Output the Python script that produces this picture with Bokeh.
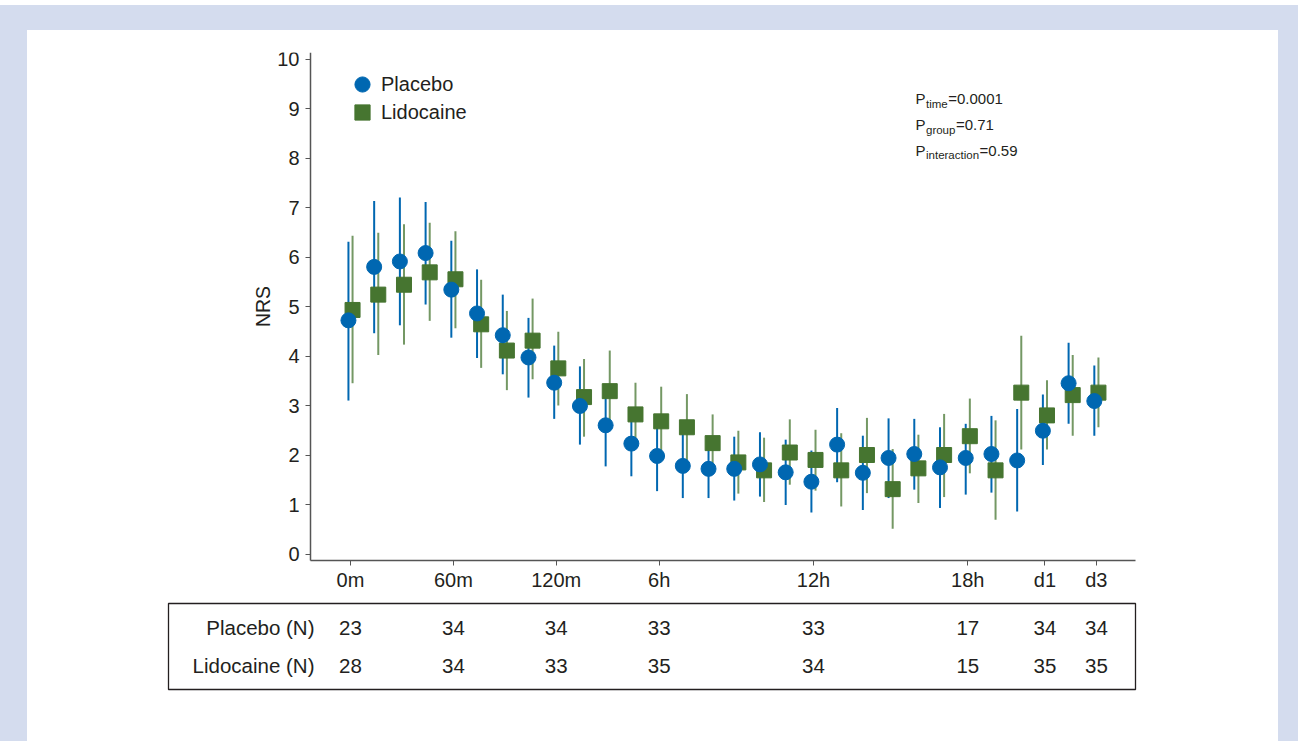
from bokeh.plotting import figure
from bokeh.models import Range1d, FixedTicker, Legend, LegendItem, Label, ColumnDataSource
from bokeh.layouts import column
from bokeh.embed import file_html
from bokeh.resources import INLINE
from bokeh.core.properties import value

# ---------------- data ----------------
tick_idx = [0, 4, 8, 12, 18, 24, 27, 29]
tick_labels = ["0m", "60m", "120m", "6h", "12h", "18h", "d1", "d3"]

placebo_mean = [4.72, 5.80, 5.91, 6.08, 5.34, 4.86, 4.42, 3.97, 3.46, 2.99,
                2.60, 2.23, 1.98, 1.78, 1.72, 1.72, 1.81, 1.65, 1.46, 2.21,
                1.64, 1.94, 2.02, 1.75, 1.94, 2.02, 1.89, 2.49, 3.45, 3.09]
placebo_lo = [3.10, 4.46, 4.62, 5.04, 4.37, 3.96, 3.63, 3.16, 2.73, 2.21,
              1.77, 1.57, 1.27, 1.13, 1.13, 1.08, 1.16, 0.99, 0.84, 1.45,
              0.89, 1.13, 1.30, 0.93, 1.20, 1.24, 0.86, 1.80, 2.63, 2.39]
placebo_hi = [6.31, 7.13, 7.20, 7.11, 6.33, 5.75, 5.24, 4.77, 4.21, 3.79,
              3.40, 2.85, 2.65, 2.45, 2.30, 2.37, 2.46, 2.31, 2.09, 2.95,
              2.39, 2.74, 2.73, 2.56, 2.63, 2.79, 2.93, 3.22, 4.27, 3.81]

lido_mean = [4.93, 5.24, 5.44, 5.69, 5.55, 4.64, 4.11, 4.31, 3.75, 3.17,
             3.29, 2.82, 2.68, 2.56, 2.24, 1.85, 1.69, 2.05, 1.90, 1.69,
             2.00, 1.31, 1.73, 2.00, 2.38, 1.69, 3.26, 2.80, 3.21, 3.26]
lido_lo = [3.45, 4.02, 4.23, 4.71, 4.56, 3.76, 3.31, 3.53, 3.00, 2.37,
           2.50, 2.20, 1.98, 1.90, 1.70, 1.22, 1.05, 1.40, 1.28, 0.96,
           1.23, 0.51, 1.03, 1.15, 1.63, 0.69, 2.11, 2.11, 2.39, 2.56]
lido_hi = [6.43, 6.49, 6.66, 6.69, 6.52, 5.54, 4.91, 5.16, 4.49, 3.94,
           4.11, 3.46, 3.38, 3.23, 2.82, 2.49, 2.35, 2.72, 2.51, 2.44,
           2.75, 2.12, 2.41, 2.83, 3.14, 2.70, 4.41, 3.51, 4.02, 3.97]

placebo_n = ["23", "34", "34", "33", "33", "17", "34", "34"]
lido_n = ["28", "34", "33", "35", "34", "15", "35", "35"]
row_names = ["Placebo (N)", "Lidocaine (N)"]

p_names = ["time", "group", "interaction"]
p_values = ["0.0001", "0.71", "0.59"]

# ---------------- styling / layout constants ----------------
FONT = "Liberation Sans"
BLUE = "#0067b1"
GREEN = "#467530"
BG = "#d4dcee"
TXT = "#231f20"
AXC = "#555555"

# page-pixel geometry of the white panel / plot frame
PANEL_L, PANEL_T, PANEL_R, PANEL_B = 27, 30, 1278, 741
FRAME_L, FRAME_T, FRAME_R, FRAME_B = 166, 52, 1137, 692
PX_X = 25.72           # px per time step
X0_PX = 350            # px of first time step
PX_Y = 49.5            # px per NRS unit
Y0_PX = 553.5          # px of NRS 0

def dx_(px):
    return (px - X0_PX) / PX_X

def dy_(py):
    return (Y0_PX - py) / PX_Y

axis_x0, axis_x1 = dx_(310), dx_(1135)
axis_y0, axis_y1 = dy_(560), dy_(52)

W = PANEL_R - PANEL_L
H = PANEL_B - PANEL_T

xs = list(range(len(placebo_mean)))
off = 0.08
src_p = ColumnDataSource(dict(x=[v - off for v in xs], m=placebo_mean, lo=placebo_lo, hi=placebo_hi))
src_l = ColumnDataSource(dict(x=[v + off for v in xs], m=lido_mean, lo=lido_lo, hi=lido_hi))

p = figure(width=W, height=H, output_backend="svg", toolbar_location=None,
           x_range=Range1d(dx_(FRAME_L), dx_(FRAME_R)), y_range=Range1d(dy_(FRAME_B), dy_(FRAME_T)),
           min_border_left=FRAME_L - PANEL_L, min_border_right=PANEL_R - FRAME_R,
           min_border_top=FRAME_T - PANEL_T, min_border_bottom=PANEL_B - FRAME_B,
           styles={"background-color": "white"})
p.border_fill_color = "white"
p.background_fill_color = "white"
p.outline_line_color = None
p.grid.visible = False

p.segment(x0="x", y0="lo", x1="x", y1="hi", source=src_p, line_color=BLUE, line_width=2)
p.segment(x0="x", y0="lo", x1="x", y1="hi", source=src_l, line_color=GREEN, line_width=2, line_alpha=0.75)
r_l = p.scatter(x="x", y="m", source=src_l, marker="square", size=15, fill_color=GREEN, line_color=GREEN)
r_p = p.scatter(x="x", y="m", source=src_p, marker="circle", size=15, fill_color=BLUE, line_color=BLUE)

# axes at fixed locations, limited by bounds
p.xaxis.fixed_location = axis_y0
p.xaxis.bounds = (axis_x0, axis_x1)
p.yaxis.fixed_location = axis_x0
p.yaxis.bounds = (axis_y0, axis_y1)
p.xaxis.ticker = FixedTicker(ticks=tick_idx)
p.xaxis.major_label_overrides = {i: l for i, l in zip(tick_idx, tick_labels)}
p.yaxis.ticker = FixedTicker(ticks=list(range(0, 11)))
for ax in p.axis:
    ax.axis_line_color = AXC
    ax.axis_line_width = 1.5
    ax.major_tick_line_color = AXC
    ax.major_tick_out = 5
    ax.major_tick_in = 0
    ax.minor_tick_out = 0
    ax.minor_tick_in = 0
    ax.major_label_text_font = FONT
    ax.major_label_text_font_size = "20px"
    ax.major_label_text_color = TXT
p.xaxis.major_label_standoff = 3
p.yaxis.major_label_standoff = 6
p.yaxis.axis_label = "NRS"
p.yaxis.axis_label_text_font = FONT
p.yaxis.axis_label_text_font_size = "19.5px"
p.yaxis.axis_label_text_font_style = "normal"
p.yaxis.axis_label_text_color = TXT
p.yaxis.axis_label_standoff = 0

# legend: one legend per entry so that the rows sit close together
GW = 38
leg_common = dict(glyph_width=GW, glyph_height=GW, label_standoff=0, padding=0, margin=0,
                  label_text_font=FONT, label_text_font_size="20px", label_text_color=TXT,
                  border_line_color=None, background_fill_alpha=0)
for (lab, rend), cy in zip([("Placebo", r_p), ("Lidocaine", r_l)], [84, 112]):
    top = cy - GW / 2
    p.add_layout(Legend(items=[LegendItem(label=lab, renderers=[rend])],
                        location=(362 - GW / 2 - FRAME_L, FRAME_B - top - GW), **leg_common))

# P-value annotations (subscripts built from pieces)
ARIAL = {"P": 667, "t": 278, "i": 222, "m": 833, "e": 556, "g": 556, "r": 333, "o": 556,
         "u": 556, "p": 556, "n": 556, "a": 556, "c": 500}
def width(s, size):
    return sum(ARIAL.get(ch, 556) for ch in s) * size / 1000.0

MAIN, SUB = 15, 11.5
for k, (nm, pv) in enumerate(zip(p_names, p_values)):
    common = dict(x=dx_(915), y=dy_(98.3 + 25.8 * k), text_font=FONT, text_color=TXT,
                  text_baseline="alphabetic")
    p.add_layout(Label(text="P", text_font_size=f"{MAIN}px", **common))
    p.add_layout(Label(text=nm, text_font_size=f"{SUB}px", x_offset=10.5, y_offset=-5, **common))
    p.add_layout(Label(text="=" + pv, text_font_size=f"{MAIN}px",
                       x_offset=10.5 + width(nm, SUB) + 0.5, **common))

# ---------------- N table below the axis ----------------
p.quad(left=[dx_(168)], right=[dx_(1135)], top=[dy_(603)], bottom=[dy_(689)],
       fill_color=None, line_color=TXT, line_width=1.3)
row_y = [dy_(627), dy_(665)]
for yy, counts in zip(row_y, [placebo_n, lido_n]):
    p.text(x=tick_idx, y=[yy] * len(tick_idx), text=counts, text_align="center",
           text_baseline="middle", text_font=value(FONT), text_font_size="20.5px", text_color=TXT)
p.text(x=[dx_(314)] * 2, y=row_y, text=row_names, text_align="right",
       text_baseline="middle", text_font=value(FONT), text_font_size="20.5px", text_color=TXT)

layout = column(p, styles={"background-color": BG, "margin-top": "5px",
                           "padding": f"{PANEL_T - 5}px 20px 0px {PANEL_L}px"})

open("out.html", "w").write(file_html(layout, INLINE))
